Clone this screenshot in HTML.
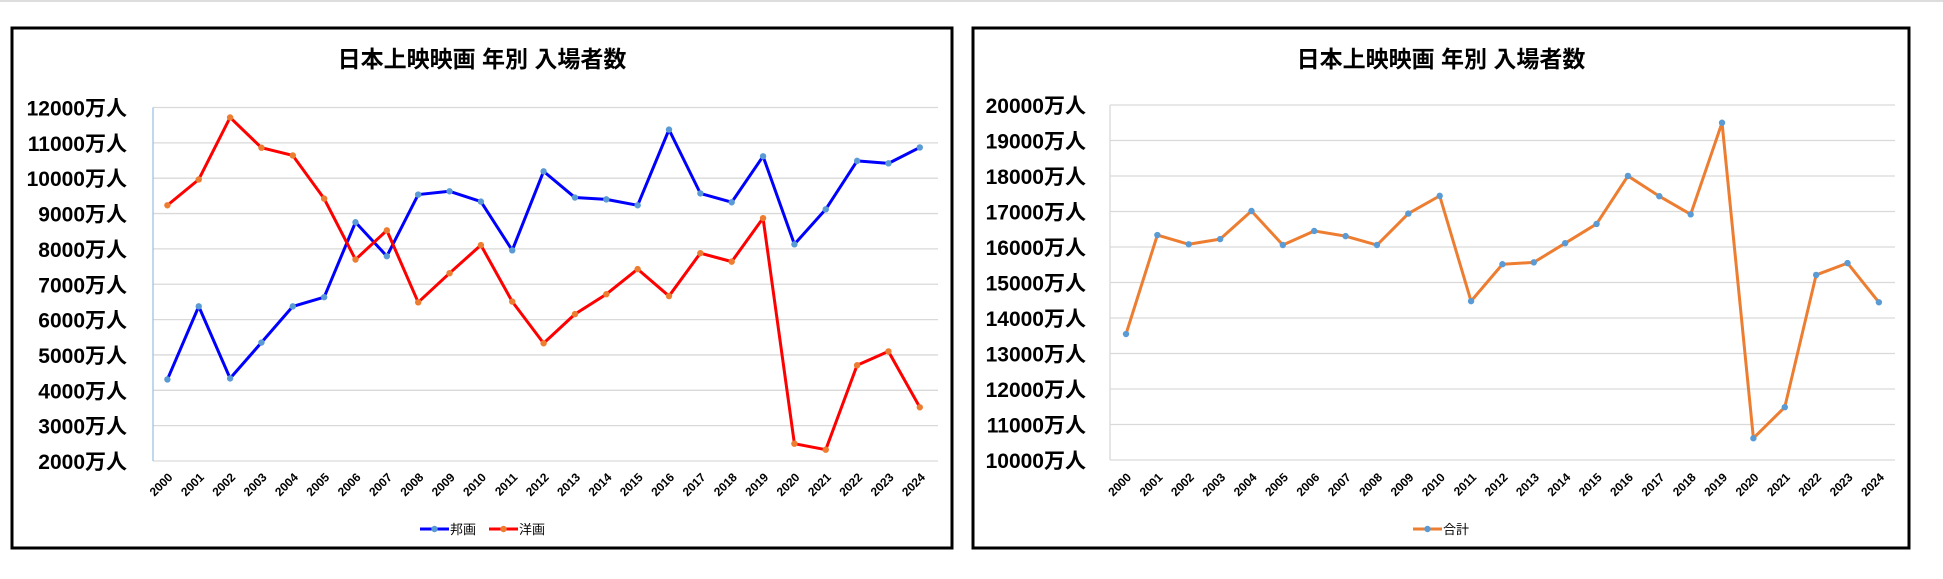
<!DOCTYPE html>
<html><head><meta charset="utf-8"><style>
body{margin:0;background:#fff;width:1943px;height:579px;overflow:hidden}
svg{display:block}
text{font-family:"Liberation Sans","Noto Sans CJK JP",sans-serif}
</style></head><body>
<svg id="s" width="1943" height="579" xmlns="http://www.w3.org/2000/svg"></svg>
<script>
const s=document.getElementById('s');let h='';
h+='<line x1="0" y1="1" x2="1943" y2="1" stroke="#ddd" stroke-width="2"/>';
const yrs=[];for(let i=2000;i<=2024;i++)yrs.push(i);
const blue=[4307,6374,4337,5351,6374,6635,8754,7793,9537,9630,9338,7960,10194,9453,9401,9234,11374,9570,9320,10620,8130,9120,10490,10420,10870];
const red=[9234,9964,11718,10862,10643,9422,7699,8524,6489,7313,8107,6509,5330,6155,6718,7428,6666,7880,7640,8870,2490,2320,4710,5100,3520];
const tot=[13548,16337,16077,16223,17014,16056,16452,16306,16056,16941,17440,14475,15515,15567,16108,16649,18002,17430,16920,19500,10614,11488,15213,15546,14443];
function chart(o){
 h+=`<rect x="${o.bx}" y="28" width="${o.bw}" height="520" fill="#fff" stroke="#000" stroke-width="3"/>`;
 h+=`<text x="${o.tx}" y="67" font-size="23" font-weight="bold" text-anchor="middle">日本上映映画 年別 入場者数</text>`;
 const n=10;
 for(let i=0;i<=n;i++){const v=o.min+i*(o.max-o.min)/n;const y=o.y0-(o.y0-o.y1)*i/n;
  h+=`<line x1="${o.px}" y1="${y}" x2="${o.pr}" y2="${y}" stroke="#d9d9d9" stroke-width="1.3"/>`;
  h+=`<text x="${o.lx}" y="${y+8}" font-size="21" font-weight="bold" text-anchor="end">${v}万人</text>`;}
 h+=`<line x1="${o.px}" y1="${o.y1}" x2="${o.px}" y2="${o.y0}" stroke="${o.ax}" stroke-width="1.3"/>`;
 const X=i=>o.c0+i*o.st,Y=v=>o.y0-(v-o.min)/(o.max-o.min)*(o.y0-o.y1);
 yrs.forEach((yr,i)=>{const x=X(i)+6,y=478;h+=`<text x="${x}" y="${y}" font-size="12" font-weight="bold" text-anchor="end" transform="rotate(-45 ${x} ${y})">${yr}</text>`;});
 o.ser.forEach(sr=>{h+=`<polyline fill="none" stroke="${sr.c}" stroke-width="3" stroke-linejoin="round" points="${sr.d.map((v,i)=>X(i)+','+Y(v)).join(' ')}"/>`;
  sr.d.forEach((v,i)=>h+=`<circle cx="${X(i)}" cy="${Y(v)}" r="3.2" fill="${sr.m}"/>`);
  h+=`<line x1="${sr.lx}" y1="529" x2="${sr.lx+29}" y2="529" stroke="${sr.c}" stroke-width="3"/><circle cx="${sr.lx+14.5}" cy="529" r="3.2" fill="${sr.m}"/><text x="${sr.lx+30}" y="534" font-size="13">${sr.n}</text>`;});
}
chart({bx:12,bw:940,tx:482,min:2000,max:12000,y0:461,y1:107.5,px:153,pr:938,lx:127,ax:"#9dc3e6",c0:167.4,st:31.35,
 ser:[{d:blue,c:"#0000ff",m:"#5b9bd5",n:"邦画",lx:420},{d:red,c:"#ff0000",m:"#ed7d31",n:"洋画",lx:489}]});
chart({bx:973,bw:936,tx:1441,min:10000,max:20000,y0:460,y1:105,px:1110,pr:1895,lx:1086,ax:"#d9d9d9",c0:1126,st:31.37,
 ser:[{d:tot,c:"#ed7d31",m:"#5b9bd5",n:"合計",lx:1413}]});
s.innerHTML=h;
</script>
</body></html>
